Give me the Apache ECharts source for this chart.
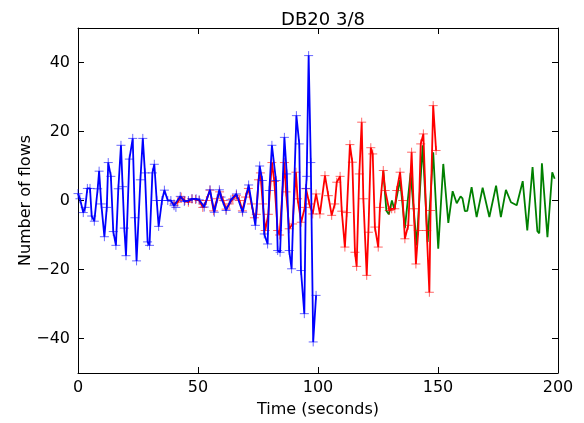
<!DOCTYPE html>
<html><head><meta charset="utf-8">
<script src="https://cdn.jsdelivr.net/npm/echarts@6/dist/echarts.min.js"></script>
<style>html,body{margin:0;padding:0;background:#fff}#c{width:584px;height:423px}</style>
</head><body><div id="c"></div>
<script>
// Blue series (markers '+')
const blueX = [0,0.8,2.2,3,3.9,5,5.7,6.8,8.2,8.8,9.7,11,12,12.6,13.7,14.7,15.8,16.8,17.9,18.6,19.3,20,21.4,22.8,23.7,24.4,26,27,27.9,29,29.8,31,31.8,32.8,33.6,35,36,37.4,38.7,40,40.8,42.6,44.3,46,47.5,49.2,50.5,52.6,55,56.8,58.9,59.6,61.7,63.7,66,68.6,71.1,73.9,75.7,76.8,77.6,79,79.7,80.8,82.5,83.2,84.2,86,87,88,89,91,92.2,92.9,94.3,95,95.3,96.1,97,98,99.2];
const blueY = [2,0.5,-3.5,-2,3.5,3.5,-4.5,-6,3.4,8.5,-1,-10.5,-2,11,7,-9,-13,3.4,16,4,-8,-16,12,18,-5,-17.5,6,18,8,-12,-13,8,10.5,0,-7.5,0,3,0,0,-1.5,-2,1.2,-0.3,0,0.5,0.5,0.2,-1.9,3.1,-3.4,3.1,1,-2.9,0.2,1.9,-3.4,4.5,-7.2,10,5.8,-9.7,-12.6,2.9,16,5.8,-14.5,-15,18.3,7.7,-14.5,-19.8,24.6,16.4,-20.3,-32.8,3.5,7,42,11,-41,-27.5];
// Red series (markers '+')
const redX = [40,41.5,43,44.5,46,47.5,49,50.5,52,53.5,55,56.5,58,59,60.5,61.7,63,64.5,66,67.3,68.5,69.8,71,72.3,73.5,74.3,75.2,76,77,78,79.3,80.8,81.8,83.2,84,86,86.7,88,89.4,90.8,91.5,93,94.5,95,96.4,97.8,99.2,100.8,102.9,104.3,105.7,107,107.8,109.2,109.9,111.2,112,113.3,114.3,115.4,116.1,117.2,118.2,118.9,120.3,121,122,122.8,123.7,125.1,125.8,127.2,128,129.7,130.7,132,132.8,134.2,135.3,136.2,137.6,139,139.9,140.8,141.8,142.8,143.9,145.3,146.4,146.9,148,149.2];
const redY = [-1,-0.5,1,0,-0.5,0.5,0.3,0,-2,0,3,-3,0.5,2.5,0,-2.5,-1,0.5,1.5,0,-3,1,3.5,-1,-5,-4,6,8,-1,-8.7,-4,11,5.5,-8.7,-10,11,2.5,-8.2,-6.8,8.2,0.5,-6.3,-2,3.4,-1,-3.9,1.9,-3.9,7.2,1.4,-4.3,-1,5.3,7,-3.1,-13.5,-3.5,16.2,11.1,-15,-19.1,7.7,22.7,0.5,-21.7,-9.2,15.3,13.5,-7.7,-13.5,-2,8.7,2.9,-2.9,-2.4,-2.4,2.9,8.2,0,-11.1,-7.2,14,-2.4,-18.4,-8.7,16.4,19.3,-8.7,-26.6,-2.9,27.5,14.5];
// Green series (no markers)
const greenX = [127.2,128.5,129.5,130.8,131.8,134.2,136.2,138.6,141.1,143.6,145.7,148,150.1,152.2,154.3,156.1,157.8,159.4,160.2,161.2,162.2,164,166.1,168.6,169.2,171.4,174.2,176.2,178.3,179,180.4,182.8,185.3,187.2,189.4,191.4,192.2,193.3,195.6,197.6,198.6];
const greenY = [8.5,-3,-4,0,-2.5,6,-8,8,-13,16,-12,14,-14,10.6,-6.5,2.7,-0.8,1.2,0.6,-3.1,-3,3.9,-4.8,3.7,3.9,-4.8,4.3,-4.8,3.1,2.6,-0.5,-1.4,5.6,-8.7,9.7,-8.9,-9.5,10.8,-10.6,8.2,6.3];
const xTicks = [0,50,100,150,200];
const yTicks = [-40,-20,0,20,40];

const zip = (a,b) => a.map((v,i)=>[v,b[i]]);
const FONT = 'DejaVu Sans';
const plus = 'path://M0,5L10,5M5,0L5,10';
const minus = v => (v<0 ? '\u2212'+Math.abs(v) : String(v));

const axBase = {
  axisLine:{show:true,onZero:false,lineStyle:{color:'#000',width:1}},
  splitLine:{show:false},
};
const tick = {show:true,inside:true,length:6,lineStyle:{color:'#000'}};
const chart = echarts.init(document.getElementById('c'), null, {renderer:'canvas'});
chart.setOption({
  animation:false,
  backgroundColor:'#fff',
  title:{text:'DB20 3/8',left:318,top:6,textAlign:'center',
    textStyle:{fontFamily:FONT,fontSize:18,fontWeight:'normal',color:'#000'}},
  grid:{left:78,right:26,top:28,bottom:50,containLabel:false},
  xAxis:[
    Object.assign({type:'value',position:'bottom',min:0,max:200,interval:50,
      name:'Time (seconds)',nameLocation:'middle',nameGap:29,
      nameTextStyle:{fontFamily:FONT,fontSize:16,color:'#000'},
      axisTick:Object.assign({customValues:xTicks},tick),
      axisLabel:{show:true,fontFamily:FONT,fontSize:16,color:'#000',margin:7,formatter:minus,customValues:xTicks}},axBase),
    Object.assign({type:'value',position:'top',min:0,max:200,interval:50,
      axisTick:Object.assign({customValues:xTicks},tick),
      axisLabel:{show:false}},axBase)
  ],
  yAxis:[
    Object.assign({type:'value',position:'left',min:-50,max:50,
      name:'Number of flows',nameLocation:'middle',nameGap:44,nameMoveOverlap:false,
      nameTextStyle:{fontFamily:FONT,fontSize:16,color:'#000'},
      axisTick:Object.assign({customValues:yTicks},tick),
      axisLabel:{show:true,fontFamily:FONT,fontSize:16,color:'#000',margin:8,formatter:minus,customValues:yTicks}},axBase),
    Object.assign({type:'value',position:'right',min:-50,max:50,
      axisTick:Object.assign({customValues:yTicks},tick),
      axisLabel:{show:false}},axBase)
  ],
  series:[
    {name:'green',type:'line',data:zip(greenX,greenY),showSymbol:false,symbol:'none',
      lineStyle:{color:'#008000',width:1.8},itemStyle:{color:'#008000'},z:2},
    {name:'red',type:'line',data:zip(redX,redY),symbol:plus,symbolSize:9,showAllSymbol:true,
      lineStyle:{color:'#ff0000',width:1.8},
      itemStyle:{color:'rgba(0,0,0,0)',borderColor:'rgba(255,0,0,0.6)',borderWidth:1},z:3},
    {name:'blue',type:'line',data:zip(blueX,blueY),symbol:plus,symbolSize:9,showAllSymbol:true,
      lineStyle:{color:'#0000ff',width:1.8},
      itemStyle:{color:'rgba(0,0,0,0)',borderColor:'rgba(0,0,255,0.6)',borderWidth:1},z:4}
  ]
});
</script></body></html>
